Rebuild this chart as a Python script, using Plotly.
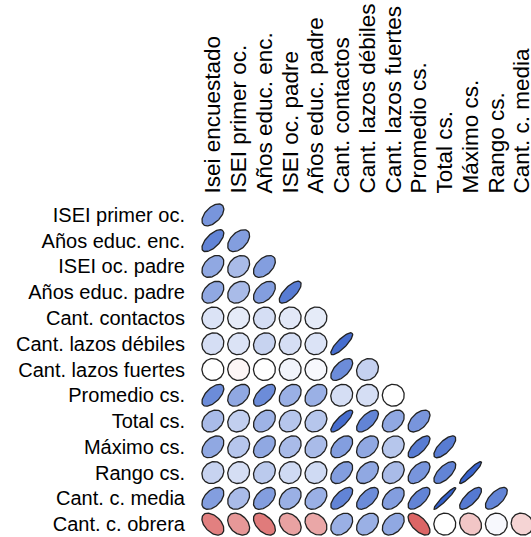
import numpy as np
import plotly.graph_objects as go

col_labels = ["Isei encuestado", "ISEI primer oc.", "Años educ. enc.", "ISEI oc. padre",
              "Años educ. padre", "Cant. contactos", "Cant. lazos débiles",
              "Cant. lazos fuertes", "Promedio cs.", "Total cs.", "Máximo cs.",
              "Rango cs.", "Cant. c. media"]
row_labels = ["ISEI primer oc.", "Años educ. enc.", "ISEI oc. padre", "Años educ. padre",
              "Cant. contactos", "Cant. lazos débiles", "Cant. lazos fuertes",
              "Promedio cs.", "Total cs.", "Máximo cs.", "Rango cs.",
              "Cant. c. media", "Cant. c. obrera"]

# lower-triangle correlations, one list per row
r_isei_primer = [0.53]
r_anos_enc = [0.66, 0.47]
r_isei_padre = [0.40, 0.28, 0.47]
r_anos_padre = [0.40, 0.28, 0.47, 0.72]
r_contactos = [0.08, 0.05, 0.10, 0.06, 0.05]
r_debiles = [0.10, 0.08, 0.15, 0.10, 0.08, 0.83]
r_fuertes = [0.00, -0.01, 0.00, 0.02, 0.01, 0.60, 0.16]
r_promedio = [0.60, 0.40, 0.60, 0.35, 0.35, 0.10, 0.10, 0.00]
r_total = [0.28, 0.17, 0.33, 0.22, 0.22, 0.83, 0.66, 0.40, 0.53]
r_maximo = [0.40, 0.22, 0.40, 0.28, 0.28, 0.47, 0.40, 0.22, 0.72, 0.72]
r_rango = [0.15, 0.10, 0.20, 0.12, 0.12, 0.47, 0.40, 0.28, 0.53, 0.66, 0.92]
r_media = [0.47, 0.28, 0.47, 0.35, 0.35, 0.66, 0.60, 0.47, 0.66, 0.95, 0.74, 0.66]
r_obrera = [-0.47, -0.35, -0.50, -0.30, -0.28, 0.35, 0.35, 0.40, -0.62, 0.00, -0.15, 0.01, -0.10]

rows = [r_isei_primer, r_anos_enc, r_isei_padre, r_anos_padre, r_contactos, r_debiles,
        r_fuertes, r_promedio, r_total, r_maximo, r_rango, r_media, r_obrera]

POS = np.array([45, 90, 200])
NEG = np.array([205, 40, 40])
WHITE = np.array([255, 255, 255])


def corr_color(r):
    t = min(abs(r), 1.0) ** 0.7
    end = POS if r >= 0 else NEG
    c = WHITE * (1 - t) + end * t
    return "rgb(%d,%d,%d)" % tuple(np.round(c).astype(int))


k = np.linspace(0, 2 * np.pi, 80)

fig = go.Figure()
for i, row in enumerate(rows):
    yc = i + 1
    for j, r in enumerate(row):
        d = np.arccos(r) / 2
        ex = 0.85 * np.cos(k + d) / 2
        ey = 0.85 * np.cos(k - d) / 2
        fig.add_trace(go.Scatter(
            x=j + ex, y=yc - ey, mode="lines", fill="toself",
            fillcolor=corr_color(r), line=dict(color="#222222", width=1.3),
            hoverinfo="text", text="%s / %s: %.2f" % (row_labels[i], col_labels[j], r),
            showlegend=False))

fig.update_layout(
    width=531, height=537,
    margin=dict(l=200, r=0, t=202, b=0),
    paper_bgcolor="white", plot_bgcolor="white",
    font=dict(family="Liberation Sans, Arial, sans-serif", size=20, color="black"),
    xaxis=dict(range=[-0.5, 12.345], side="top", tickmode="array", automargin=False,
               tickvals=list(range(len(col_labels))), ticktext=col_labels,
               tickfont=dict(size=22.5),
               tickangle=-90, showgrid=False, zeroline=False, showline=False,
               ticklabeloverflow="allow",
               ticks="outside", ticklen=3, tickcolor="rgba(0,0,0,0)"),
    yaxis=dict(range=[13.5, 0.5], tickmode="array", automargin=False,
               tickvals=list(range(1, len(row_labels) + 1)), ticktext=row_labels,
               showgrid=False, zeroline=False, showline=False,
               ticks="outside", ticklen=10, tickcolor="rgba(0,0,0,0)"),
)

fig.write_html("out.html", config={"displayModeBar": False},
               post_script="document.body.style.margin='0';")
